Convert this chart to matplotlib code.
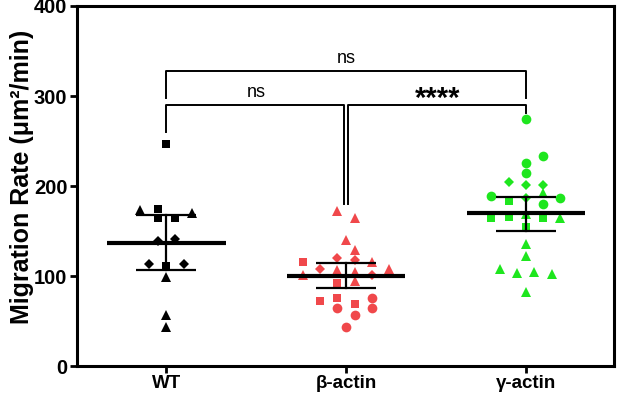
import matplotlib
matplotlib.use("Agg")
import matplotlib.pyplot as plt

plt.rcParams['font.family'] = ['Liberation Sans', 'DejaVu Sans']

# Group labels and colours
groups = ['WT', 'β-actin', 'γ-actin']
colors = ['black', '#F0484B', '#1EE61E']

# Migration rate per cell, marker shape (experiment) and column slot in the scatter
wt_values = [247, 173, 175, 164, 165, 170, 139, 141, 114, 114, 111, 99, 57, 44]
wt_shapes = ['s', '^', 's', 's', 's', '^', 'D', 'D', 'D', 'D', 's', '^', '^', '^']
wt_cols = [0, -3, -1, -1, 1, 3, -1, 1, -2, 2, 0, 0, 0, 0]

beta_values = [172, 165, 140, 129, 116, 120, 118, 116, 108, 107, 105, 108, 101, 101,
               95, 92, 72, 76, 76, 65, 69, 65, 57, 44]
beta_shapes = ['^', '^', '^', '^', 's', 'D', 'D', '^', 'D', '^', '^', '^', '^', 'D',
               '^', 's', 's', 's', 'o', 'o', 's', 'o', 'o', 'o']
beta_cols = [-1, 1, 0, 1, -5, -1, 1, 3, -3, -1, 1, 5, -5, 3,
             1, -1, -3, -1, 3, -1, 1, 3, 1, 0]

gamma_values = [274, 233, 226, 214, 205, 201, 201, 189, 192, 187, 187, 183, 180, 169,
                164, 166, 164, 165, 154, 136, 122, 108, 104, 105, 102, 82]
gamma_shapes = ['o', 'o', 'o', 'o', 'D', 'D', 'D', 'o', '^', 'o', 'D', 's', 'o', '^',
                's', 's', 's', '^', 's', '^', '^', '^', '^', '^', '^', '^']
gamma_cols = [0, 2, 0, 0, -2, 0, 2, -4, 2, 4, 0, -2, 2, 0,
              -4, -2, 2, 4, 0, 0, 0, -3, -1, 1, 3, 0]

# Mean with 95% CI
means = [137, 100, 170]
ci_low = [107, 87, 150]
ci_high = [168, 114.5, 188]

# Significance annotations
brackets = [
    # (x1, x2, bar height, left leg end, right leg end, label, label x, label y)
    (0, 2, 327.6, 298, 298, 'ns', 1.0, 342),
    (0, 0.988, 289.7, 260, 180, 'ns', 0.5, 304),
    (1.012, 2, 289.7, 180, 281, '****', 1.51, 288),
]

sizes = {'s': 6.0, '^': 7.0, 'o': 7.0, 'D': 4.8}
col_step = 0.048

fig = plt.figure(figsize=(6.17, 3.98), dpi=100)
ax = fig.add_axes([0.124, 0.080, 0.871, 0.905])

all_groups = [(wt_values, wt_shapes, wt_cols),
              (beta_values, beta_shapes, beta_cols),
              (gamma_values, gamma_shapes, gamma_cols)]

for i, (vals, shapes, cols) in enumerate(all_groups):
    for v, s, c in zip(vals, shapes, cols):
        ax.plot(i + c * col_step, v, marker=s, ms=sizes[s], color=colors[i],
                mec=colors[i], mew=0, ls='none', zorder=2)

for i in range(3):
    ax.plot([i - 0.33, i + 0.33], [means[i], means[i]], color='black', lw=3.0,
            solid_capstyle='butt', zorder=3)
    ax.plot([i, i], [ci_low[i], ci_high[i]], color='black', lw=1.6, zorder=3)
    for y in (ci_low[i], ci_high[i]):
        ax.plot([i - 0.167, i + 0.167], [y, y], color='black', lw=1.6,
                solid_capstyle='butt', zorder=3)

for x1, x2, h, l1, l2, label, tx, ty in brackets:
    ax.plot([x1, x1, x2, x2], [l1, h, h, l2], color='black', lw=1.4, zorder=3)
    if label == 'ns':
        ax.text(tx, ty, label, ha='center', va='center', fontsize=13, fontweight='medium')
    else:
        ax.text(tx, ty, label, ha='center', va='baseline', fontsize=21, fontweight='bold')

ax.set_xlim(-0.5, 2.49)
ax.set_ylim(0, 400)
ax.set_xticks(range(3))
ax.set_xticklabels(groups, fontsize=13.5, fontweight='bold')
ax.set_yticks([0, 100, 200, 300, 400])
ax.set_yticklabels(['0', '100', '200', '300', '400'], fontsize=14.5, fontweight='bold')
ax.set_ylabel('Migration Rate (μm²/min)', fontsize=18, fontweight='bold')
ax.yaxis.set_label_coords(-0.08, 0.525)
ax.tick_params(axis='both', width=2, length=5, pad=1.5)
for sp in ax.spines.values():
    sp.set_linewidth(2.2)

fig.savefig('out.png', dpi=100)
